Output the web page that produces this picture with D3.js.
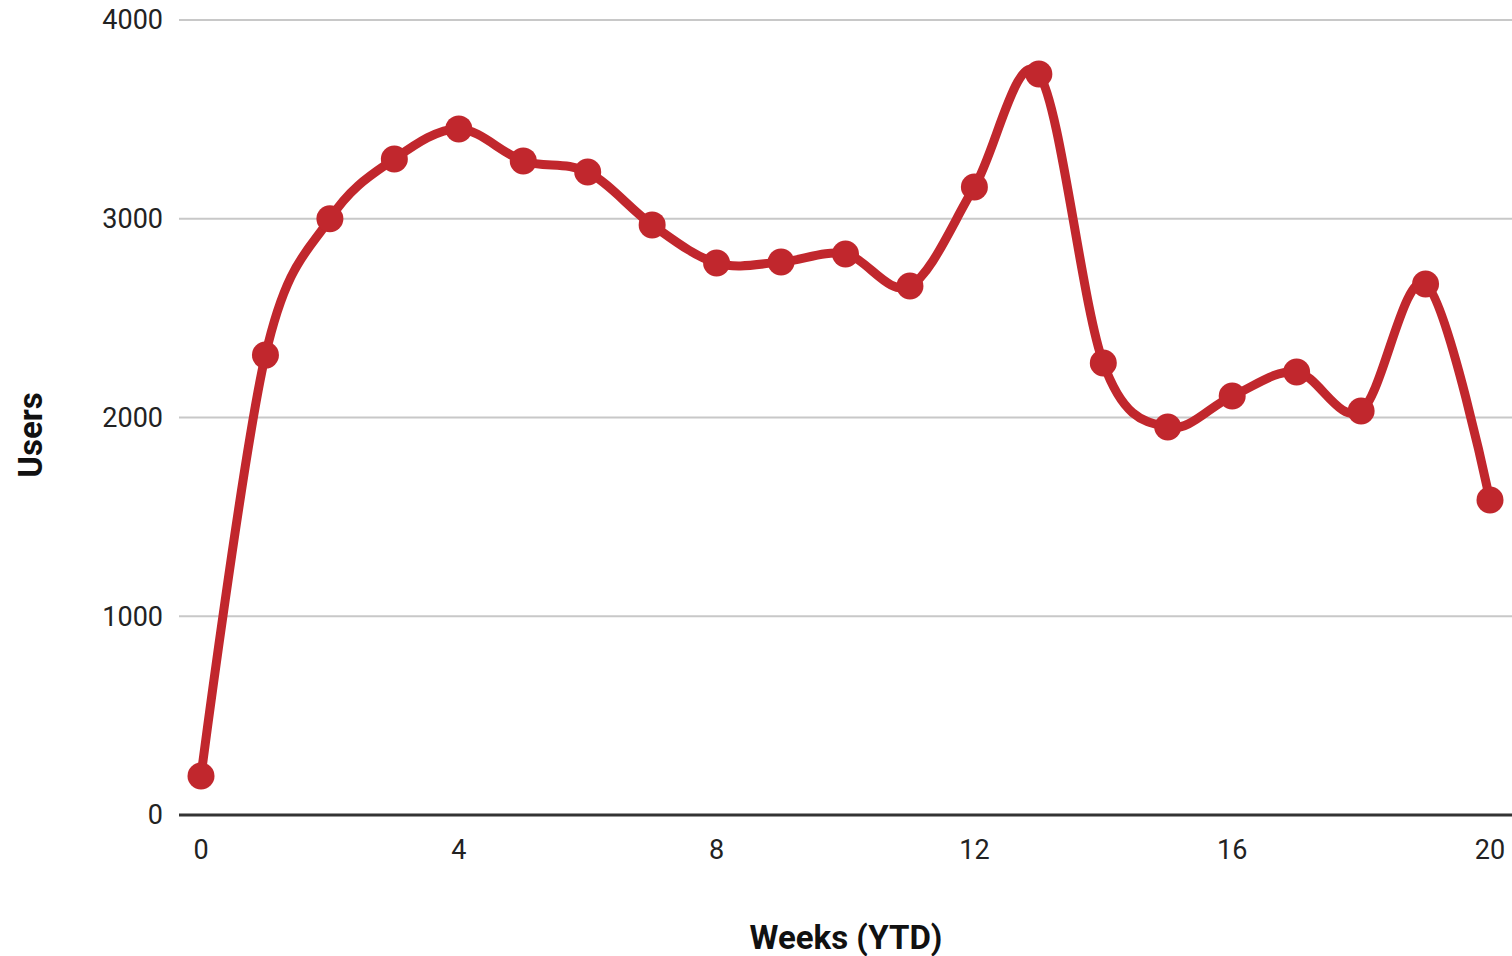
<!DOCTYPE html>
<html>
<head>
<meta charset="utf-8">
<script src="https://cdn.jsdelivr.net/npm/d3@7"></script>
<style>
  html, body { margin: 0; padding: 0; background: #fff; }
  svg { display: block; font-family: Roboto, "Noto Sans", sans-serif; }
</style>
</head>
<body>
<svg id="chart" width="1512" height="956"></svg>
<script>
// Weekly users, year to date
const weeks = [0, 1, 2, 3, 4, 5, 6, 7, 8, 9, 10, 11, 12, 13, 14, 15, 16, 17, 18, 19, 20];
const users = [196, 2314, 3000, 3301, 3452, 3291, 3235, 2969, 2777, 2782, 2823, 2662, 3160, 3728, 2274, 1952, 2108, 2229, 2033, 2672, 1585];
const xTicks = [0, 4, 8, 12, 16, 20];
const yTicks = [0, 1000, 2000, 3000, 4000];

const svg = d3.select("#chart");
const plotLeft = 179, plotRight = 1512;

const x = d3.scaleLinear().domain([0, 20]).range([201, 1490]);
const y = d3.scaleLinear().domain([0, 4000]).range([815, 20]);

// horizontal gridlines
svg.append("g")
  .selectAll("line")
  .data(yTicks.filter(d => d !== 0))
  .join("line")
  .attr("x1", plotLeft).attr("x2", plotRight)
  .attr("y1", d => y(d)).attr("y2", d => y(d))
  .attr("stroke", "#c8c8c8").attr("stroke-width", 2);

// baseline
svg.append("line")
  .attr("x1", plotLeft).attr("x2", plotRight)
  .attr("y1", y(0)).attr("y2", y(0))
  .attr("stroke", "#333").attr("stroke-width", 3);

// y tick labels
svg.append("g")
  .selectAll("text")
  .data(yTicks)
  .join("text")
  .attr("x", 163).attr("y", d => y(d))
  .attr("dy", "0.35em")
  .attr("text-anchor", "end")
  .attr("font-size", 27)
  .attr("fill", "#222")
  .text(d => d);

// x tick labels
svg.append("g")
  .selectAll("text")
  .data(xTicks)
  .join("text")
  .attr("x", d => x(d)).attr("y", 850)
  .attr("dy", "0.35em")
  .attr("text-anchor", "middle")
  .attr("font-size", 27)
  .attr("fill", "#222")
  .text(d => d);

// axis titles
svg.append("text")
  .attr("x", 846).attr("y", 937)
  .attr("dy", "0.35em")
  .attr("text-anchor", "middle")
  .attr("font-size", 33).attr("font-weight", "bold")
  .attr("fill", "#111")
  .text("Weeks (YTD)");

svg.append("text")
  .attr("transform", "translate(30,435) rotate(-90)")
  .attr("dy", "0.35em")
  .attr("text-anchor", "middle")
  .attr("font-size", 33).attr("font-weight", "bold")
  .attr("fill", "#111")
  .text("Users");

const data = weeks.map((w, i) => ({ w, v: users[i] }));
const color = "#c1272d";

const line = d3.line()
  .x(d => x(d.w))
  .y(d => y(d.v))
  .curve(d3.curveCardinal.tension(0));

svg.append("path")
  .datum(data)
  .attr("d", line)
  .attr("fill", "none")
  .attr("stroke", color)
  .attr("stroke-width", 9)
  .attr("stroke-linejoin", "round");

svg.append("g")
  .selectAll("circle")
  .data(data)
  .join("circle")
  .attr("cx", d => x(d.w))
  .attr("cy", d => y(d.v))
  .attr("r", 13.5)
  .attr("fill", color);
</script>
</body>
</html>
